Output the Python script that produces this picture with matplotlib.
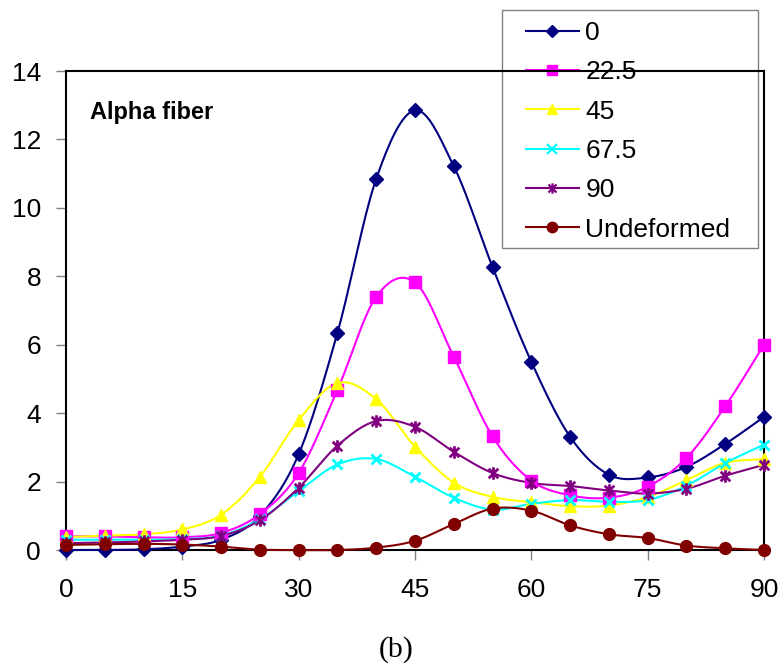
import matplotlib
matplotlib.use("Agg")
import matplotlib.pyplot as plt
import numpy as np
from matplotlib.path import Path
from matplotlib.patches import Rectangle

plt.rcParams['font.family'] = ['Liberation Sans', 'DejaVu Sans']

angles = [0, 5, 10, 15, 20, 25, 30, 35, 40, 45, 50, 55, 60, 65, 70, 75, 80, 85, 90]

s_0 = [0.0, 0.0, 0.02, 0.1, 0.3, 1.0, 2.8, 6.35, 10.85, 12.85, 11.22, 8.27, 5.5, 3.31, 2.2, 2.12, 2.43, 3.1, 3.89]
s_22 = [0.4, 0.4, 0.37, 0.37, 0.5, 1.05, 2.25, 4.68, 7.4, 7.82, 5.65, 3.32, 2.03, 1.6, 1.53, 1.85, 2.69, 4.2, 6.0]
s_45 = [0.38, 0.42, 0.46, 0.6, 1.03, 2.14, 3.8, 4.88, 4.41, 3.02, 1.97, 1.55, 1.4, 1.28, 1.3, 1.55, 2.04, 2.55, 2.65]
s_67 = [0.3, 0.3, 0.3, 0.32, 0.42, 0.9, 1.72, 2.5, 2.66, 2.14, 1.53, 1.18, 1.35, 1.46, 1.41, 1.46, 1.88, 2.54, 3.08]
s_90 = [0.2, 0.22, 0.25, 0.3, 0.41, 0.87, 1.82, 3.05, 3.77, 3.6, 2.87, 2.25, 1.96, 1.87, 1.74, 1.65, 1.79, 2.17, 2.49]
s_und = [0.15, 0.17, 0.18, 0.16, 0.1, 0.01, 0.0, 0.0, 0.07, 0.27, 0.76, 1.21, 1.15, 0.72, 0.46, 0.35, 0.13, 0.05, 0.0]

labels = ['0', '22.5', '45', '67.5', '90', 'Undeformed']
colors = ['#000080', '#FF00FF', '#FFFF00', '#00FFFF', '#800080', '#800000']

# asterisk marker: an x with a vertical stroke
star = Path([(-1, -1), (1, 1), (-1, 1), (1, -1), (0, -1.3), (0, 1.3)],
            [Path.MOVETO, Path.LINETO, Path.MOVETO, Path.LINETO, Path.MOVETO, Path.LINETO])

markers = ['D', 's', '^', 'x', star, 'o']
msizes = [7.5, 8.5, 9, 7.5, 9, 8.5]
leg_sizes = [6, 7.5, 7.5, 7, 7.5, 7.5]


def smooth(x, y, n=20):
    # bezier curve through the points, control points from neighbouring slopes
    p = np.column_stack([x, y]).astype(float)
    ext = np.vstack([p[0], p, p[-1]])
    out = []
    t = np.linspace(0, 1, n)[:, None]
    for i in range(len(p) - 1):
        p0, p3 = p[i], p[i + 1]
        p1 = p0 + (ext[i + 2] - ext[i]) / 6
        p2 = p3 - (ext[i + 3] - ext[i + 1]) / 6
        seg = ((1 - t) ** 3) * p0 + 3 * ((1 - t) ** 2) * t * p1 + 3 * (1 - t) * t ** 2 * p2 + t ** 3 * p3
        out.append(seg if i == 0 else seg[1:])
    out = np.vstack(out)
    return out[:, 0], out[:, 1]


fig = plt.figure(figsize=(7.84, 6.67), dpi=100)
ax = fig.add_axes([0.0842, 0.1754, 0.8903, 0.7181])

series = [s_0, s_22, s_45, s_67, s_90, s_und]
handles = []
for vals, lab, c, m, ms, lms in zip(series, labels, colors, markers, msizes, leg_sizes):
    lined = m == 'x' or m is star
    xs, ys = smooth(angles, vals)
    ax.plot(xs, ys, color=c, lw=1.5, clip_on=False, zorder=3)
    ax.plot(angles, vals, ls='none', marker=m, ms=ms, color=c, mfc=c, mec=c,
            mew=2 if lined else 1, clip_on=False, zorder=4)
    h, = ax.plot([], [], color=c, lw=1.5, marker=m, ms=lms, mfc=c, mec=c,
                 mew=1.6 if lined else 1)
    handles.append(h)

ax.set_xlim(0, 90)
ax.set_ylim(0, 14)
ax.set_xticks(range(0, 91, 15))
ax.set_yticks(range(0, 15, 2))
ax.tick_params(axis='both', direction='out', length=7, width=1, color='#808080', labelsize=19)
ax.tick_params(axis='x', pad=13)
ax.tick_params(axis='y', pad=11)
for sp in ax.spines.values():
    sp.set_linewidth(1.5)
    sp.set_color('black')

ax.text(0.034, 0.9, 'Alpha fiber', transform=ax.transAxes, fontsize=17,
        fontweight='bold', va='baseline', ha='left')

# legend box sits under the axes frame
box = Rectangle((502 / 784, 1 - 248 / 667), 256 / 784, 238 / 667, transform=fig.transFigure,
                facecolor='white', edgecolor='#808080', lw=1, clip_on=False, zorder=1.9)
ax.add_patch(box)
leg = ax.legend(handles, labels, loc='upper left', bbox_to_anchor=(526 / 784, 1 - 21 / 667),
                bbox_transform=fig.transFigure, fontsize=19, frameon=False,
                borderaxespad=0, borderpad=0, labelspacing=0.58, handlelength=2.0,
                handletextpad=0.25)
leg.set_zorder(2)

fig.text(396 / 784, 0.016, '(b)', ha='center', va='baseline', fontsize=21.5,
         family=['Liberation Serif', 'DejaVu Serif'])

fig.savefig('out.png', dpi=100)
